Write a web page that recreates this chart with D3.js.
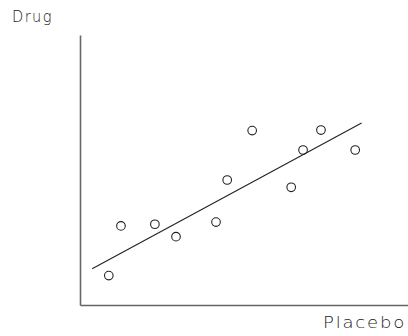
<!DOCTYPE html>
<html>
<head>
<meta charset="utf-8">
<script src="https://cdn.jsdelivr.net/npm/d3@7/dist/d3.min.js"></script>
<style>
  html, body { margin: 0; padding: 0; background: #fff; }
  svg { display: block; }
  .lbl { font-family: "DejaVu Sans", sans-serif; font-weight: 200; font-size: 15px; fill: #1a1a1a; letter-spacing: 1.5px; }
</style>
</head>
<body>
<svg id="chart" width="408" height="336"></svg>
<script>
// Paired measurements: response on placebo (x) vs. response on drug (y)
const placebo = [0.9, 1.28, 2.34, 3.0, 4.25, 4.6, 5.38, 6.6, 6.97, 7.53, 8.6];
const drug    = [1.09, 2.93, 2.99, 2.53, 3.07, 4.63, 6.46, 4.36, 5.74, 6.48, 5.74];

// Trend line endpoints
const trendX = [0.38, 8.8];
const trendY = [1.34, 6.74];

const xLabel = "Placebo";
const yLabel = "Drug";

const svg = d3.select("#chart");
const W = 408, H = 336;
const plotLeft = 80, plotBottom = 305, plotTop = 35;

const x = d3.scaleLinear().domain([0, 10.25]).range([plotLeft, W]);
const y = d3.scaleLinear().domain([0, 10]).range([plotBottom, plotTop]);

// Axes: bare lines, no ticks
svg.append("g")
  .attr("transform", `translate(0,${plotBottom})`)
  .call(d3.axisBottom(x).tickValues([]).tickSizeOuter(0));
svg.append("g")
  .attr("transform", `translate(${plotLeft},0)`)
  .call(d3.axisLeft(y).tickValues([]).tickSizeOuter(0));
svg.selectAll(".domain").attr("stroke", "#666").attr("stroke-width", 1.6);

// Trend line
svg.append("path")
  .datum(d3.zip(trendX, trendY))
  .attr("fill", "none")
  .attr("stroke", "#222")
  .attr("stroke-width", 1.1)
  .attr("d", d3.line().x(d => x(d[0])).y(d => y(d[1])));

// Points
svg.append("g").selectAll("circle")
  .data(d3.zip(placebo, drug))
  .join("circle")
  .attr("cx", d => x(d[0]))
  .attr("cy", d => y(d[1]))
  .attr("r", 4.3)
  .attr("fill", "none")
  .attr("stroke", "#222")
  .attr("stroke-width", 1.1);

// Axis titles
svg.append("text").attr("class", "lbl")
  .attr("x", 12).attr("y", 22)
  .attr("textLength", 41).attr("lengthAdjust", "spacingAndGlyphs")
  .text(yLabel);
svg.append("text").attr("class", "lbl")
  .attr("x", 323).attr("y", 328)
  .attr("textLength", 83).attr("lengthAdjust", "spacingAndGlyphs")
  .text(xLabel);
</script>
</body>
</html>
